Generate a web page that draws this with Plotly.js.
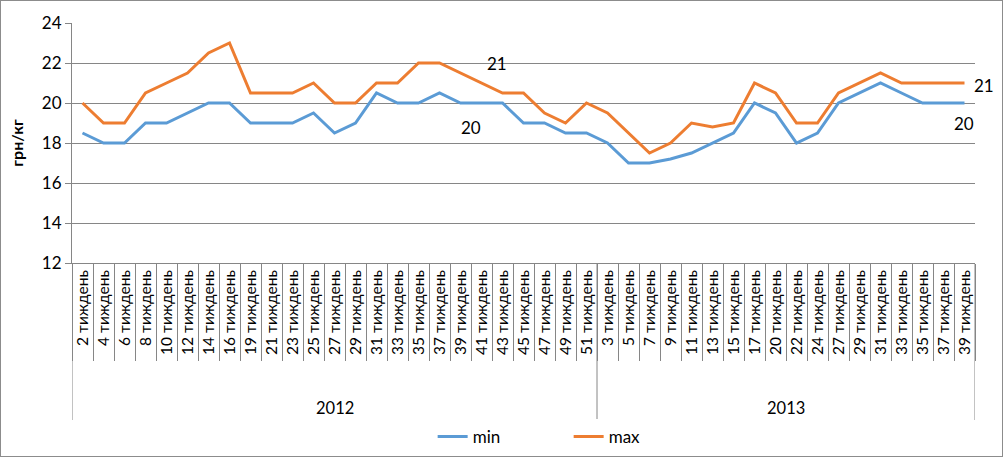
<!DOCTYPE html>
<html>
<head>
<meta charset="utf-8">
<script src="https://cdn.plot.ly/plotly-3.0.1.min.js"></script>
<style>
html,body{margin:0;padding:0;background:#fff;}
#frame{position:absolute;left:0;top:0;width:1001px;height:455px;border:1px solid #8c8c8c;pointer-events:none;z-index:10;}
#chart{position:absolute;left:0;top:0;width:1003px;height:457px;}
</style>
</head>
<body>
<div id="chart"></div>
<div id="frame"></div>
<script>
var years = ["2012", "2013"];
var weeks2012 = [2,4,6,8,10,12,14,16,19,21,23,25,27,29,31,33,35,37,39,41,43,45,47,49,51];
var weeks2013 = [3,5,7,9,11,13,15,17,20,22,24,27,29,31,33,35,37,39];
var minVals = [18.5,18,18,19,19,19.5,20,20,19,19,19,19.5,18.5,19,20.5,20,20,20.5,20,20,20,19,19,18.5,18.5,
               18,17,17,17.2,17.5,18,18.5,20,19.5,18,18.5,20,20.5,21,20.5,20,20,20];
var maxVals = [20,19,19,20.5,21,21.5,22.5,23,20.5,20.5,20.5,21,20,20,21,21,22,22,21.5,21,20.5,20.5,19.5,19,20,
               19.5,18.5,17.5,18,19,18.8,19,21,20.5,19,19,20.5,21,21.5,21,21,21,21];
var suffix = " тиждень";

// unique category keys (year|week), displayed as week labels only
var cats = [], labels = [];
weeks2012.forEach(function(w){ cats.push(years[0] + "|" + w); labels.push(w + suffix); });
weeks2013.forEach(function(w){ cats.push(years[1] + "|" + w); labels.push(w + suffix); });

var n = cats.length;
var labelIdx = 19;

var font = "Lato, 'Open Sans', sans-serif";
var gray = "#868686";

var traces = [
  {x:cats, y:minVals, name:"min", type:"scatter", mode:"lines",
   line:{color:"#5B9BD5", width:3}},
  {x:cats, y:maxVals, name:"max", type:"scatter", mode:"lines",
   line:{color:"#ED7D31", width:3}}
];

// group dividers and year labels
var n1 = weeks2012.length, n2 = weeks2013.length;
var divY = -(420 - 263) / 240;
var shapes = [-0.5, n1 - 0.5, n - 0.5].map(function(b){
  return {type:"line", xref:"x", yref:"paper", x0:b, x1:b, y0:0, y1:divY,
          line:{color:gray, width:1}};
});
var lblFont = {family:font, size:17, color:"#000"};
function dataLabel(idx, vals, dx, dy) {
  return {x:cats[idx], y:vals[idx], xref:"x", yref:"y", text:String(vals[idx]),
          showarrow:false, xshift:dx, yshift:dy, font:lblFont};
}
var yearY = -(408 - 263) / 240;
var annotations = [
  {x:(n1 - 1) / 2, y:yearY, xref:"x", yref:"paper", yanchor:"middle", text:years[0],
   showarrow:false, font:{family:font, size:16.5, color:"#000"}},
  {x:n1 + (n2 - 1) / 2, y:yearY, xref:"x", yref:"paper", yanchor:"middle", text:years[1],
   showarrow:false, font:{family:font, size:16.5, color:"#000"}},
  dataLabel(labelIdx, maxVals, 15, 20),
  dataLabel(labelIdx, minVals, -11, -24),
  dataLabel(n - 1, maxVals, 19, -2),
  dataLabel(n - 1, minVals, -1, -20)
];

var layout = {
  width:1003, height:457,
  margin:{l:72, r:28, t:23, b:194},
  paper_bgcolor:"#fff", plot_bgcolor:"#fff",
  font:{family:font, size:15, color:"#000"},
  showlegend:true,
  legend:{orientation:"h", x:0.55, xanchor:"center", yref:"container", y:1 - 437 / 457, yanchor:"middle",
          font:{family:font, size:17, color:"#000"}, entrywidth:91},
  shapes:shapes, annotations:annotations,
  xaxis:{type:"category", automargin:false, range:[-0.5, n - 0.5],
         tickmode:"array", tickvals:cats, ticktext:labels,
         tickangle:-90, showgrid:false,
         showline:true, linecolor:gray, linewidth:1,
         ticks:"outside", tickson:"boundaries", ticklen:97, tickcolor:gray,
         tickfont:{family:font, size:15.5, color:"#000"}},
  yaxis:{range:[12,24], dtick:2, automargin:false, showgrid:true, gridcolor:gray, gridwidth:1,
         showline:true, linecolor:gray, ticks:"outside", ticklen:6, tickcolor:gray,
         zeroline:false, tickfont:{family:font, size:17, color:"#000"},
         title:{text:"грн/кг", font:{family:font, size:16, color:"#000", weight:"bold"}, standoff:14}}
};

Plotly.newPlot("chart", traces, layout, {displayModeBar:false, staticPlot:true});
</script>
</body>
</html>
